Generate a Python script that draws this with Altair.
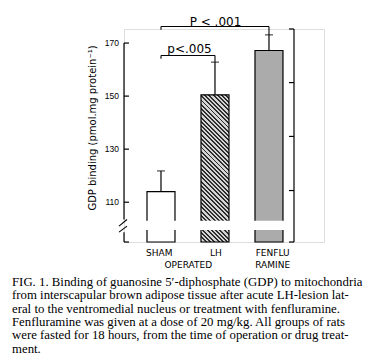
import altair as alt
import pandas as pd

# ---------------- data ----------------
categories = ["SHAM", "LH", "FENFLU"]
label_line1 = ["SHAM", "LH", "FENFLU"]
label_line2 = ["OPERATED", "", "RAMINE"]
gdp_mean = [114.0, 150.5, 167.2]
gdp_err_top = [121.8, 162.8, 173.1]

y_domain = [95.0, 175.3]
y_label_values = [110, 130, 150, 170]
left_tick_values = [95, 110, 130, 150, 170]
right_tick_values = [95, 114.4, 134.8, 155.1, 175.3]
left_axis_from = [95.0, 103.5]
left_axis_to = [98.7, 170.0]
slash_from = [98.7, 101.0]
slash_to = [101.0, 103.5]
bar_gap = [100.0, 102.5]

sig_labels = ["p<.005", "P < .001"]
sig_from = ["SHAM", "SHAM"]
sig_to = ["LH", "FENFLU"]
sig_level = [165.3, 176.25]
sig_left_end = [164.1, 175.0]
sig_right_end = [162.8, 173.1]
sig_label_y = [167.9, 177.8]

y_title = ["GDP binding (pmol.mg protein\u207b\u00b9)"]

caption_lines = [
    "\u00a0\u00a0\u00a0FIG. 1. Binding of guanosine 5\u2032-diphosphate (GDP) to mitochondria",
    "from interscapular brown adipose tissue after acute LH-lesion lat-",
    "eral to the ventromedial nucleus or treatment with fenfluramine.",
    "Fenfluramine was given at a dose of 20 mg/kg. All groups of rats",
    "were fasted for 18 hours, from the time of operation or drug treat-",
    "ment.",
]

# ---------------- layout ----------------
FX = 170          # x of the right frame line
W, H = 200, 213   # view slightly wider than the frame
SANS = "DejaVu Sans"

df = pd.DataFrame({
    "group": categories,
    "mean": gdp_mean,
    "err": gdp_err_top,
    "line1": label_line1,
    "line2": label_line2,
})
sig = pd.DataFrame({
    "label": sig_labels, "from": sig_from, "to": sig_to,
    "level": sig_level, "lend": sig_left_end, "rend": sig_right_end,
    "ly": sig_label_y,
})

xscale = alt.Scale(domain=categories, range=[0, FX],
                   paddingInner=0.4815, paddingOuter=0.315, align=0.676)
yscale = alt.Scale(domain=y_domain, nice=False, zero=False)
pxscale = alt.Scale(domain=[0, W], range=[0, W], nice=False, zero=False)


def X(field):
    return alt.X(field, type="nominal", scale=xscale, axis=None)


def Y(field):
    return alt.Y(field, type="quantitative", scale=yscale, axis=None)


def YD(value):
    return alt.Y(datum=value, type="quantitative", scale=yscale, axis=None)


def PX(field):
    return alt.X(field, type="quantitative", scale=pxscale, axis=None)


base = alt.Chart(df)

# hatch for LH bar (diagonal stripes via a hard-stop gradient)
bar_w = 28.0
bar_h = (gdp_mean[1] - y_domain[0]) / (y_domain[1] - y_domain[0]) * H
kk = (bar_w + bar_h) / (bar_w * bar_w + bar_h * bar_h)
n_stripes = int(round((bar_w + bar_h) / 4.3))
stops = []
for i in range(n_stripes):
    o0 = i / n_stripes
    o1 = (i + 0.45) / n_stripes
    o2 = (i + 1) / n_stripes
    stops += [
        {"offset": o0, "color": "#2e2e2e"},
        {"offset": o1, "color": "#2e2e2e"},
        {"offset": o1, "color": "#d4d4d4"},
        {"offset": o2, "color": "#d4d4d4"},
    ]
hatch = {"gradient": "linear", "stops": stops,
         "x1": 0, "y1": 1, "x2": bar_w * kk, "y2": 1 - bar_h * kk}

sham_bar = base.transform_filter(alt.datum.group == "SHAM").mark_bar(
    fill="white", stroke="black", strokeWidth=1.2
).encode(x=X("group"), y=Y("mean"), y2=alt.datum(y_domain[0]))
lh_bar = base.transform_filter(alt.datum.group == "LH").mark_bar(
    fill=hatch, stroke="black", strokeWidth=1.2
).encode(x=X("group"), y=Y("mean"), y2=alt.datum(y_domain[0]))
fen_bar = base.transform_filter(alt.datum.group == "FENFLU").mark_bar(
    fill="#ababab", stroke="black", strokeWidth=1.2
).encode(x=X("group"), y=Y("mean"), y2=alt.datum(y_domain[0]))

gap = base.mark_bar(fill="white", stroke="white", strokeWidth=2.5).encode(
    x=X("group"), y=YD(bar_gap[0]), y2=alt.datum(bar_gap[1])
)

err_line = base.mark_rule(color="black", strokeWidth=1.2).encode(
    x=X("group"), y=Y("mean"), y2="err:Q"
)
err_cap = base.mark_tick(color="black", orient="horizontal", size=8, thickness=1.2).encode(
    x=X("group"), y=Y("err")
)

# frame lines: left axis (with break) at px 0, right frame at px FX
frame_df = pd.DataFrame({
    "a": left_axis_from + [y_domain[0]],
    "b": left_axis_to + [y_domain[1]],
    "px": [0] * len(left_axis_from) + [FX],
})
frame = alt.Chart(frame_df).mark_rule(color="black", strokeWidth=1.2).encode(
    x=PX("px"), y=Y("a"), y2="b:Q",
)
slash_df = pd.DataFrame({"a": slash_from, "b": slash_to})
slashes = alt.Chart(slash_df).mark_rule(color="black", strokeWidth=1.1).encode(
    x=alt.value(-5), x2=alt.value(3), y=Y("a"), y2="b:Q"
)
tick_df = pd.DataFrame({
    "v": left_tick_values + right_tick_values,
    "p0": [0] * len(left_tick_values) + [FX - 5] * len(right_tick_values),
    "p1": [5] * len(left_tick_values) + [FX] * len(right_tick_values),
})
ticks = alt.Chart(tick_df).mark_rule(color="black", strokeWidth=1.2).encode(
    x=PX("p0"), x2="p1:Q", y=Y("v"),
)
ll_df = pd.DataFrame({"v": y_label_values})
left_labels = alt.Chart(ll_df).mark_text(
    font="Liberation Sans", fontSize=8.5, color="black", align="right", baseline="middle"
).encode(x=alt.value(-5), y=Y("v"), text="v:Q")
ytitle = alt.Chart(pd.DataFrame({"t": y_title})).mark_text(
    font=SANS, fontSize=10, color="black", angle=270, align="center", baseline="middle"
).encode(x=alt.value(-31), y=alt.value(99), text="t:N")

# significance brackets
sbase = alt.Chart(sig)
br_h = sbase.mark_rule(color="black", strokeWidth=1.1).encode(
    x=X("from"), x2="to:N", y=Y("level")
)
br_l = sbase.mark_rule(color="black", strokeWidth=1.1).encode(
    x=X("from"), y=Y("level"), y2="lend:Q"
)
br_r = sbase.mark_rule(color="black", strokeWidth=1.1).encode(
    x=X("to"), y=Y("level"), y2="rend:Q"
)
sig1 = sbase.transform_filter(alt.datum.to == "LH").mark_text(
    font=SANS, fontSize=12, color="black", baseline="middle", align="center"
).encode(x=alt.value(65.5), y=Y("ly"), text="label:N")
sig2 = sbase.transform_filter(alt.datum.to == "FENFLU").mark_text(
    font=SANS, fontSize=12, color="black", baseline="middle", align="center"
).encode(x=alt.value(91.5), y=Y("ly"), text="label:N")

# category labels
lab1 = base.mark_text(font=SANS, fontSize=9, color="black", baseline="middle",
                      align="center", dx=-3).encode(
    x=X("group"), y=alt.value(223.5), text="line1:N"
)
lab2a = base.transform_filter(alt.datum.group == "SHAM").mark_text(
    font=SANS, fontSize=9, color="black", baseline="middle", align="center", dx=26
).encode(x=X("group"), y=alt.value(236), text="line2:N")
lab2b = base.transform_filter(alt.datum.group == "FENFLU").mark_text(
    font=SANS, fontSize=9, color="black", baseline="middle", align="center", dx=-3
).encode(x=X("group"), y=alt.value(236), text="line2:N")

chart = alt.layer(
    sham_bar, lh_bar, fen_bar, gap, err_line, err_cap,
    frame, slashes, ticks, left_labels, ytitle,
    br_h, br_l, br_r, sig1, sig2, lab1, lab2a, lab2b,
).resolve_scale(x="independent").properties(
    width=W, height=H,
    autosize=alt.AutoSizeParams(type="none"),
    padding={"left": 116, "top": 21, "right": 58, "bottom": 112},
    title=alt.TitleParams(
        text=caption_lines, orient="bottom", anchor="start", frame="group",
        font="Liberation Serif", fontSize=12.8, fontWeight="normal", color="black",
        lineHeight=13.3, baseline="top", dx=-112, offset=6,
    ),
).configure_view(stroke=None).configure(background="white")

chart.save("out.html", embed_options={"renderer": "svg", "actions": False})
